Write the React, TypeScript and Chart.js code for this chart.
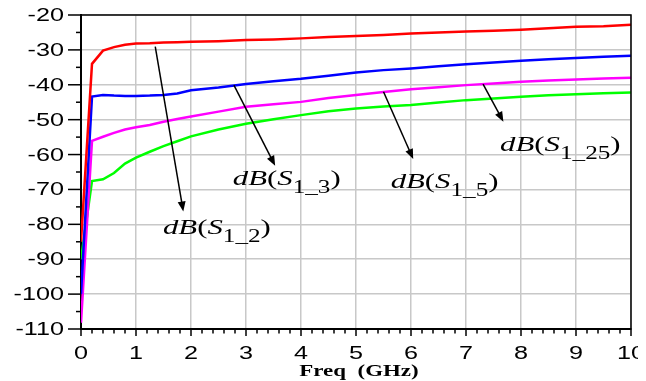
import React, { useEffect, useRef } from "react";
import { Chart, registerables } from "chart.js";

Chart.register(...registerables);

// ---- data ----
const freq = [0, 0.2, 0.4, 0.6, 0.8, 1.0, 1.25, 1.5, 1.75, 2, 2.5, 3, 3.5, 4, 4.5, 5, 5.5, 6, 6.5, 7, 7.5, 8, 8.5, 9, 9.5, 10];
const s12 = [-85, -34, -30.2, -29.2, -28.5, -28.2, -28.1, -27.9, -27.8, -27.7, -27.5, -27.2, -27.0, -26.7, -26.3, -26.0, -25.7, -25.3, -25.0, -24.7, -24.5, -24.2, -23.8, -23.4, -23.2, -22.8];
const s13 = [-100, -43.4, -42.9, -43.1, -43.2, -43.2, -43.1, -42.9, -42.5, -41.6, -40.8, -39.8, -39.0, -38.3, -37.4, -36.5, -35.8, -35.3, -34.7, -34.1, -33.6, -33.1, -32.7, -32.3, -32.0, -31.7];
const s15 = [-108.2, -56.1, -54.9, -53.8, -52.8, -52.2, -51.5, -50.6, -49.8, -49.1, -47.7, -46.3, -45.6, -44.9, -43.8, -42.9, -42.1, -41.3, -40.7, -40.1, -39.6, -39.1, -38.8, -38.5, -38.2, -38.0];
const s125 = [-90, -67.6, -67.1, -65.3, -62.6, -60.9, -59.2, -57.6, -56.2, -54.8, -52.8, -51.2, -49.9, -48.7, -47.6, -46.8, -46.2, -45.8, -45.1, -44.4, -43.9, -43.4, -43.0, -42.7, -42.4, -42.2];

const xTickValues = [0, 1, 2, 3, 4, 5, 6, 7, 8, 9, 10];
const yTickValues = [-110, -100, -90, -80, -70, -60, -50, -40, -30, -20];
const xTitle = "Freq  (GHz)";

// annotations (data coordinates)
const arrowFromX = [1.35, 2.78, 5.5, 7.31];
const arrowFromY = [-29.1, -40.1, -42.0, -39.8];
const arrowToX = [1.86, 3.53, 6.04, 7.68];
const arrowToY = [-76.3, -63.2, -61.3, -50.6];
const labelX = [1.49, 2.76, 5.63, 7.62];
const labelY = [-82.9, -68.6, -69.5, -59.1];
const labelSub = ["1_2", "1_3", "1_5", "1_25"];

const SX = 1.4;
const TICK_FONT = '18px "Liberation Sans", Arial, Helvetica, sans-serif';
const TITLE_FONT = 'bold 17px "Liberation Serif", "Times New Roman", serif';
const LBL_IT = 'italic 22px "Liberation Serif", "Times New Roman", serif';
const LBL_RM = '22px "Liberation Serif", "Times New Roman", serif';
const LBL_SUB = '18px "Liberation Serif", "Times New Roman", serif';

function stretchText(ctx: CanvasRenderingContext2D, txt: string, x: number, y: number, font: string, align: CanvasTextAlign, baseline: CanvasTextBaseline, sx: number) {
  ctx.save();
  ctx.font = font;
  ctx.textAlign = align;
  ctx.textBaseline = baseline;
  ctx.fillStyle = "#000";
  ctx.translate(x, y);
  ctx.scale(sx, 1);
  ctx.fillText(txt, 0, 0);
  ctx.restore();
}

function drawLabel(ctx: CanvasRenderingContext2D, x: number, y: number, sub: string) {
  const parts = [
    { t: "dB", f: LBL_IT, dy: 0 },
    { t: "(", f: LBL_RM, dy: 0 },
    { t: "S", f: LBL_IT, dy: 0 },
    { t: sub, f: LBL_SUB, dy: 8 },
    { t: ")", f: LBL_RM, dy: 0 },
  ];
  let cx = x;
  for (const p of parts) {
    ctx.save();
    ctx.font = p.f;
    const w = ctx.measureText(p.t).width * SX;
    ctx.restore();
    stretchText(ctx, p.t, cx, y + p.dy, p.f, "left", "alphabetic", SX);
    cx += w;
  }
}

function drawArrow(ctx: CanvasRenderingContext2D, x1: number, y1: number, x2: number, y2: number) {
  const ang = Math.atan2(y2 - y1, x2 - x1);
  const L = 10, W = 4;
  ctx.save();
  ctx.strokeStyle = "#000";
  ctx.fillStyle = "#000";
  ctx.lineWidth = 1.5;
  ctx.beginPath();
  ctx.moveTo(x1, y1);
  ctx.lineTo(x2 - Math.cos(ang) * L * 0.8, y2 - Math.sin(ang) * L * 0.8);
  ctx.stroke();
  ctx.beginPath();
  ctx.moveTo(x2, y2);
  ctx.lineTo(x2 - Math.cos(ang) * L - Math.sin(ang) * W, y2 - Math.sin(ang) * L + Math.cos(ang) * W);
  ctx.lineTo(x2 - Math.cos(ang) * L + Math.sin(ang) * W, y2 - Math.sin(ang) * L - Math.cos(ang) * W);
  ctx.closePath();
  ctx.fill();
  ctx.restore();
}

const decorPlugin = {
  id: "decor",
  afterDraw(chart: any) {
    const ctx: CanvasRenderingContext2D = chart.ctx;
    const { left, right, top, bottom } = chart.chartArea;
    const xs = chart.scales.x;
    const ys = chart.scales.y;
    ctx.save();
    ctx.strokeStyle = "#000";
    ctx.lineWidth = 1.5;
    ctx.beginPath();
    ctx.moveTo(left, top);
    ctx.lineTo(right, top);
    ctx.lineTo(right, bottom);
    ctx.stroke();
    for (let v = -110; v <= -20; v += 5) {
      const py = ys.getPixelForValue(v);
      const major = v % 10 === 0;
      ctx.beginPath();
      ctx.moveTo(left - (major ? 13 : 5), py);
      ctx.lineTo(left, py);
      ctx.stroke();
    }
    for (let i = 0; i <= 50; i++) {
      const v = i * 0.2;
      const px = xs.getPixelForValue(v);
      const major = i % 5 === 0;
      ctx.beginPath();
      ctx.moveTo(px, bottom);
      ctx.lineTo(px, bottom + (major ? 7 : 4.5));
      ctx.stroke();
    }
    ctx.restore();
    for (const v of yTickValues) {
      stretchText(ctx, String(v), left - 17, ys.getPixelForValue(v) + 1, TICK_FONT, "right", "middle", SX);
    }
    for (const v of xTickValues) {
      stretchText(ctx, String(v), xs.getPixelForValue(v), bottom + 30, TICK_FONT, "center", "alphabetic", SX);
    }
    stretchText(ctx, xTitle, (left + right) / 2 + 3, bottom + 47, TITLE_FONT, "center", "alphabetic", 1.35);
    for (let i = 0; i < arrowFromX.length; i++) {
      drawArrow(ctx, xs.getPixelForValue(arrowFromX[i]), ys.getPixelForValue(arrowFromY[i]), xs.getPixelForValue(arrowToX[i]), ys.getPixelForValue(arrowToY[i]));
      drawLabel(ctx, xs.getPixelForValue(labelX[i]), ys.getPixelForValue(labelY[i]), labelSub[i]);
    }
  },
};

export default function App() {
  const ref = useRef<HTMLCanvasElement>(null);
  useEffect(() => {
    let chart: any = null;
    let cancelled = false;
    const build = () => {
      if (cancelled || !ref.current) return;
      const mk = (arr: number[]) => freq.map((f, i) => ({ x: f, y: arr[i] }));
      const gridOpts = { color: "#c8c8c8", lineWidth: 1.5, drawTicks: false };
      chart = new Chart(ref.current, {
        type: "line",
        data: {
          datasets: [
            { label: "dB(S1_2)", data: mk(s12), borderColor: "#ff0000", backgroundColor: "#ff0000" },
            { label: "dB(S1_3)", data: mk(s13), borderColor: "#0000ff", backgroundColor: "#0000ff" },
            { label: "dB(S1_5)", data: mk(s15), borderColor: "#ff00ff", backgroundColor: "#ff00ff" },
            { label: "dB(S1_25)", data: mk(s125), borderColor: "#00ff00", backgroundColor: "#00ff00" },
          ],
        },
        options: {
          animation: false,
          responsive: false,
          events: [],
          layout: { padding: { top: 7, right: 15, left: 0, bottom: 0 } },
          plugins: { legend: { display: false }, tooltip: { enabled: false } },
          elements: { point: { radius: 0 }, line: { borderWidth: 2.5, tension: 0 } },
          scales: {
            x: {
              type: "linear",
              min: 0,
              max: 10,
              ticks: { display: false, stepSize: 1 },
              grid: gridOpts,
              border: { color: "#000", width: 2 },
              afterFit: (s: any) => { s.height = 52; },
            },
            y: {
              type: "linear",
              min: -110,
              max: -20,
              ticks: { display: false, stepSize: 10 },
              grid: gridOpts,
              border: { color: "#000", width: 2 },
              afterFit: (s: any) => { s.width = 73; },
            },
          },
        } as any,
        plugins: [decorPlugin],
      });
    };
    const fonts: any = (document as any).fonts;
    if (fonts && fonts.load) {
      Promise.all([
        fonts.load(TICK_FONT, "0123456789-"),
        fonts.load(TITLE_FONT, "Freq (GHz)"),
        fonts.load(LBL_IT, "dBS"),
        fonts.load(LBL_RM, "()"),
        fonts.load(LBL_SUB, "1_25"),
      ]).then(build, build);
    } else {
      build();
    }
    return () => {
      cancelled = true;
      if (chart) chart.destroy();
    };
  }, []);
  return <canvas ref={ref} width={638} height={373} style={{ display: "block" }} />;
}
